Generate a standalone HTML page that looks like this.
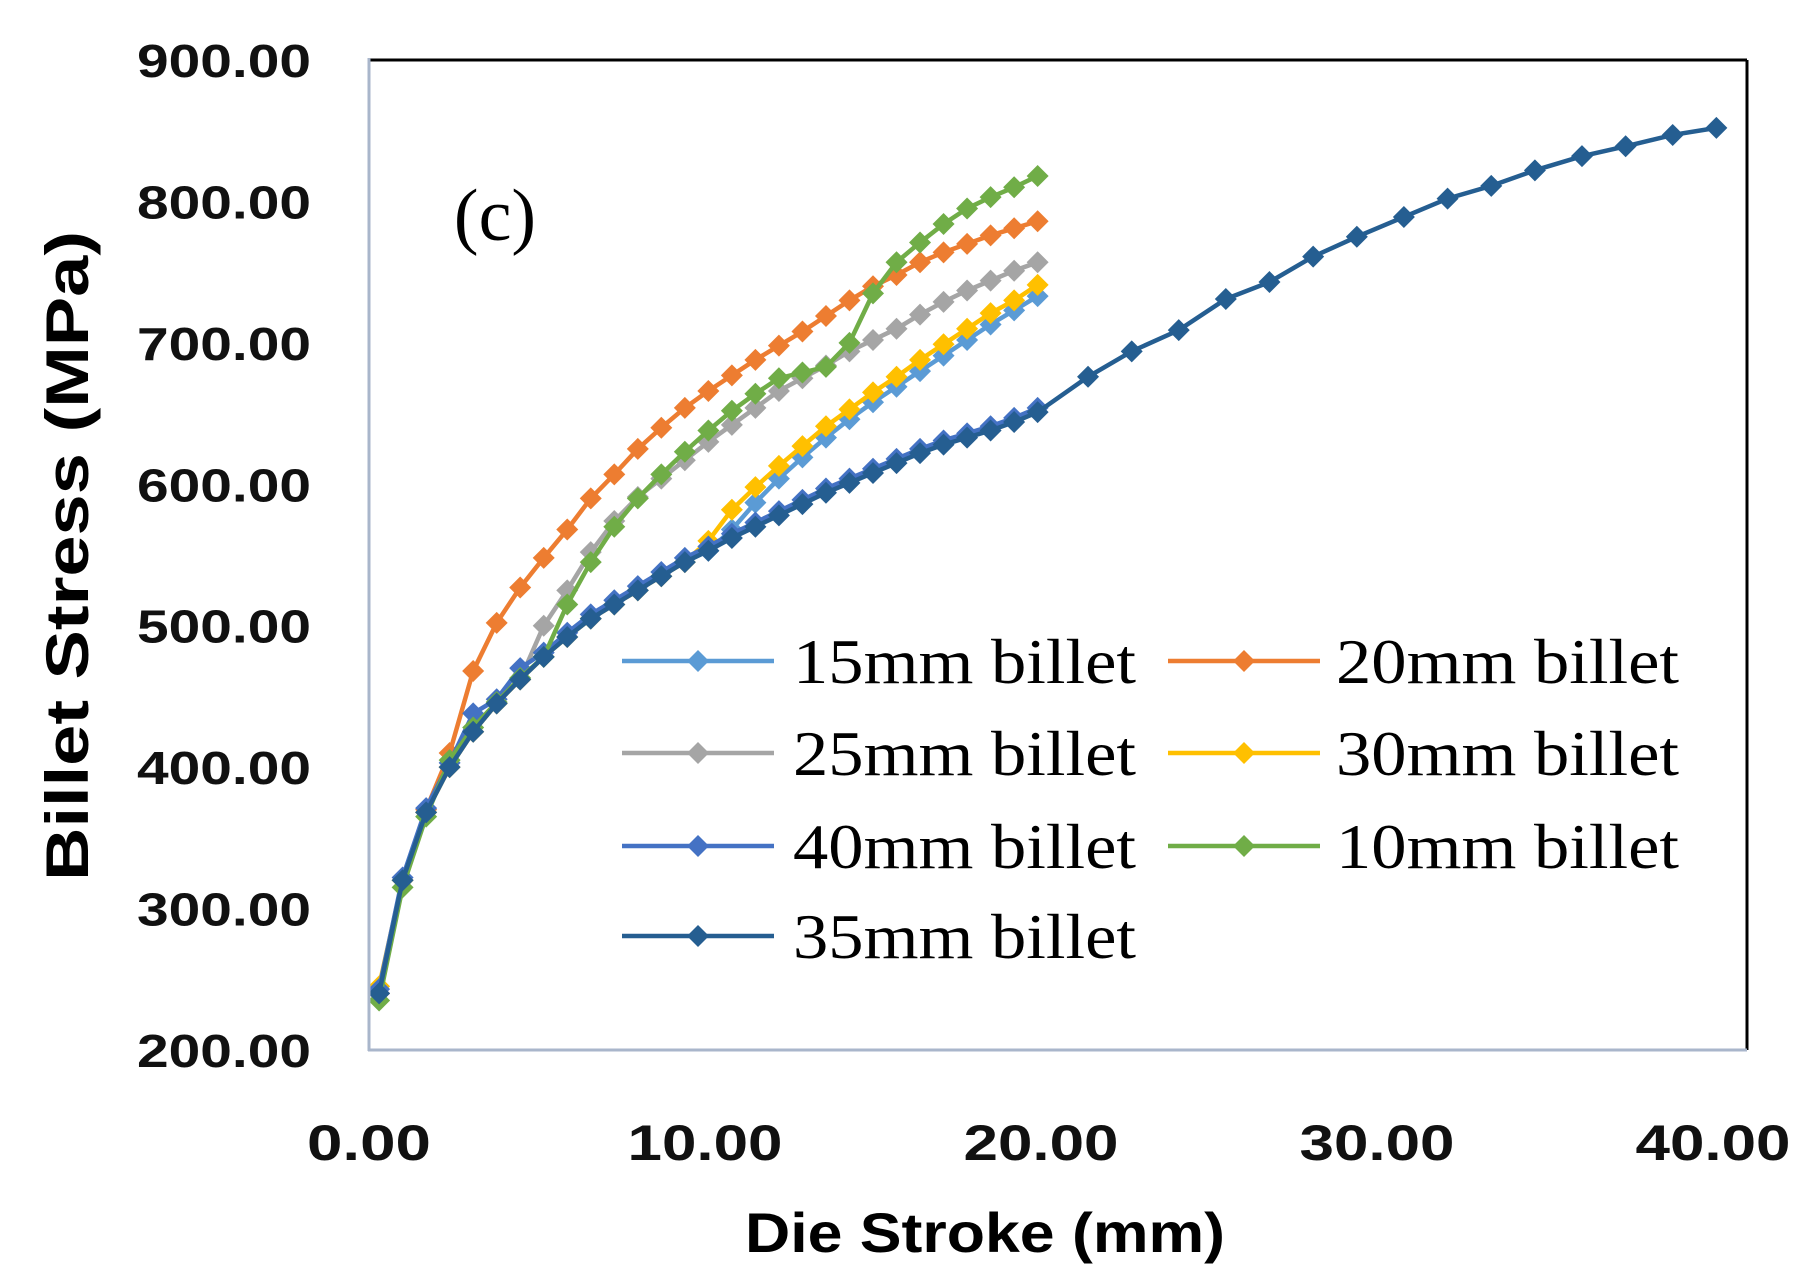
<!DOCTYPE html>
<html><head><meta charset="utf-8"><style>
html,body{margin:0;padding:0;background:#fff}
svg{display:block}
</style></head><body>
<svg id="chart" width="1817" height="1288" viewBox="0 0 1817 1288" xmlns="http://www.w3.org/2000/svg">
<rect x="0" y="0" width="1817" height="1288" fill="#fff"/>
<g id="marks"></g>
<line x1="369" y1="60" x2="1747" y2="60" stroke="#000" stroke-width="3"/>
<line x1="1747" y1="60" x2="1747" y2="1050" stroke="#000" stroke-width="3"/>
<line x1="369" y1="58" x2="369" y2="1051" stroke="#a9b6cb" stroke-width="3"/>
<line x1="368" y1="1050" x2="1747" y2="1050" stroke="#a9b6cb" stroke-width="3"/>
<g id="yticks"></g>
<g id="xticks"></g>
<text x="495" y="240" font-family="Liberation Serif, serif" font-size="74" fill="#000" text-anchor="middle">(c)</text>
<text x="985" y="1252" font-family="Liberation Sans, sans-serif" font-weight="bold" font-size="56" text-anchor="middle" textLength="480" lengthAdjust="spacingAndGlyphs" fill="#000">Die Stroke (mm)</text>
<text transform="translate(88,556) rotate(-90)" x="0" y="0" font-family="Liberation Sans, sans-serif" font-weight="bold" font-size="60" text-anchor="middle" textLength="650" lengthAdjust="spacingAndGlyphs" fill="#000">Billet Stress (MPa)</text>
<g id="legend"></g>
</svg>
<script>
const xGrid = [0.3,1.0,1.7,2.4,3.1,3.8,4.5,5.2,5.9,6.6,7.3,8.0,8.7,9.4,10.1,10.8,11.5,12.2,12.9,13.6,14.3,15.0,15.7,16.4,17.1,17.8,18.5,19.2,19.9];
const x35 = [0.3,1.0,1.7,2.4,3.1,3.8,4.5,5.2,5.9,6.6,7.3,8.0,8.7,9.4,10.1,10.8,11.5,12.2,12.9,13.6,14.3,15.0,15.7,16.4,17.1,17.8,18.5,19.2,19.9,21.4,22.7,24.1,25.5,26.8,28.1,29.4,30.8,32.1,33.4,34.7,36.1,37.4,38.8,40.1];
const s15 = [240,320,368,400,425,445,462,478,492,505,515,525,535,545,553,568,587,604,619,633,646,658,669,680,691,702,713,723,733];
const s20 = [240,320,370,410,468,502,527,548,568,590,607,625,640,654,666,677,688,698,708,719,730,740,748,757,764,770,776,781,786];
const s25 = [240,320,368,400,425,445,462,500,525,552,574,591,604,617,630,642,654,666,675,684,694,702,710,720,729,737,744,751,757];
const s30 = [245,320,368,400,425,445,462,478,492,505,515,525,535,545,560,582,598,613,627,641,653,665,676,688,699,710,721,730,741];
const s40 = [243,322,371,403,438,448,470,481,495,508,518,528,538,548,556,565,573,581,589,597,604,611,618,625,631,636,641,647,654];
const s10 = [235,315,365,405,428,446,463,478,515,545,570,590,607,623,638,652,664,675,679,683,700,735,757,771,784,795,803,810,818];
const s35 = [240,320,368,400,425,445,462,478,492,505,515,525,535,545,553,562,570,578,586,594,601,608,615,622,628,633,638,644,651,676,694,709,731,743,761,775,789,802,811,822,832,839,847,852];
const yTicks = [200,300,400,500,600,700,800,900];
const xTicks = [0,10,20,30,40];
const seriesNames = ["15mm billet","20mm billet","25mm billet","30mm billet","40mm billet","10mm billet","35mm billet"];
const seriesColors = ["#5B9BD5","#ED7D31","#A5A5A5","#FFC000","#4472C4","#70AD47","#255E91"];

const NS="http://www.w3.org/2000/svg";
const X = v => 369 + v*(1713-369)/40;
const Y = v => 1050 - (v-200)*(1050-60)/700;
function mk(tag, attrs){const e=document.createElementNS(NS,tag);for(const k in attrs)e.setAttribute(k,attrs[k]);return e;}

const yt=document.getElementById('yticks');
yTicks.forEach(t=>{
  const e=mk('text',{x:311,y:Y(t)+17,'font-family':'Liberation Sans, sans-serif','font-weight':'bold','font-size':'46','text-anchor':'end',textLength:'174',lengthAdjust:'spacingAndGlyphs',fill:'#111'});
  
  
  e.textContent=t.toFixed(2);yt.appendChild(e);
});
const xt=document.getElementById('xticks');
xTicks.forEach(t=>{
  const s=t.toFixed(2);
  const e=mk('text',{x:X(t),y:1160,'font-family':'Liberation Sans, sans-serif','font-weight':'bold','font-size':'50','text-anchor':'middle',textLength:String(s.length*31),lengthAdjust:'spacingAndGlyphs',fill:'#111'});
  
  
  e.textContent=s;xt.appendChild(e);
});

const marks=document.getElementById('marks');
const all=[[xGrid,s15],[xGrid,s20],[xGrid,s25],[xGrid,s30],[xGrid,s40],[xGrid,s10],[x35,s35]];
function diamond(cx,cy,r){return `M${cx},${cy-r} L${cx+r},${cy} L${cx},${cy+r} L${cx-r},${cy} Z`;}
all.forEach((s,i)=>{
  const g=mk('g',{});
  
  
  const pts=s[0].map((x,j)=>X(x)+','+Y(s[1][j])).join(' ');
  const pl=mk('polyline',{points:pts,fill:'none',stroke:seriesColors[i],'stroke-width':'4.5'});
  
  
  g.appendChild(pl);
  s[0].forEach((x,j)=>{
    const m=mk('path',{d:diamond(X(x),Y(s[1][j]),11),fill:seriesColors[i]});
    
    
    g.appendChild(m);
  });
  marks.appendChild(g);
});

const lg=document.getElementById('legend');
const rows=[661,753,846,936];
seriesNames.forEach((n,i)=>{
  const col=i<6?i%2:0, row=Math.floor(i/2);
  const lx=col?1168:622, tx=col?1336:793, y=rows[row];
  const g=mk('g',{});
  
  
  g.appendChild(mk('line',{x1:lx,y1:y,x2:lx+152,y2:y,stroke:seriesColors[i],'stroke-width':'4.5'}));
  g.appendChild(mk('path',{d:diamond(lx+76,y,11),fill:seriesColors[i]}));
  const t=mk('text',{x:tx,y:y+22,'font-family':'Liberation Serif, serif','font-size':'64',textLength:'343',lengthAdjust:'spacingAndGlyphs',fill:'#000'});
  t.textContent=n;g.appendChild(t);
  lg.appendChild(g);
});
</script>
</body></html>
